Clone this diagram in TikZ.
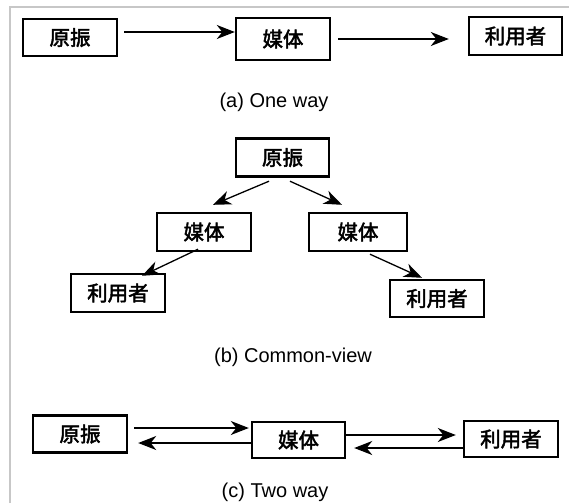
\documentclass[tikz,border=0pt]{standalone}
\usepackage{fontspec}
\setmainfont{Liberation Sans}
\newfontfamily\cjk[FakeBold=2.4]{Noto Sans CJK SC}
\usetikzlibrary{arrows.meta}
\tikzset{
  box/.style={draw=black, line width=2.4pt, rectangle, inner sep=0pt,
    minimum width=94pt, minimum height=37pt, font=\cjk\fontsize{20.5}{20.5}\selectfont},
  arr/.style={line width=1.3pt, -{Stealth[length=18pt,width=14pt,inset=5.5pt]}},
  captext/.style={font=\fontsize{20}{20}\selectfont, inner sep=0pt},
  frameline/.style={draw=black!22, line width=1.6pt}
}
\begin{document}
\begin{tikzpicture}[x=1pt,y=-1pt]
\useasboundingbox (0,0) rectangle (569,503);
\fill[white] (0,0) rectangle (569,503);
\coordinate (fr1) at (10,503);
\coordinate (fr2) at (10,7);
\coordinate (fr3) at (569,7);
\draw[frameline] (fr1) -- (fr2) -- (fr3);

% (a) One way
\node[box] (a1) at (70,37.5) {原振};
\node[box, minimum height=42pt] (a2) at (283,39) {媒体};
\node[box, minimum height=38pt, minimum width=93pt] (a3) at (515.5,36) {利用者};
\coordinate (a1s) at ([xshift=6pt,yshift=5.5pt]a1.east);
\draw[arr] (a1s) -- (a1s -| a2.west);
\coordinate (a2s) at ([xshift=7pt]a2.east);
\coordinate (a2e) at ([xshift=-19pt]a3.west |- a2.east);
\draw[arr] (a2s) -- (a2e);
\node[captext] (capa) at (274,102) {(a) One way};

% (b) Common-view
\node[box, minimum width=93pt, minimum height=38pt] (b1) at (282.5,157.5) {原振};
\node[box, minimum height=38pt] (b2) at (204,232) {媒体};
\node[box, minimum width=98pt, minimum height=38pt] (b3) at (358,232) {媒体};
\node[box, minimum height=38pt] (b4) at (118,293) {利用者};
\node[box] (b5) at (437,298.5) {利用者};
\coordinate (b1l) at ([xshift=-13.5pt,yshift=-3.5pt]b1.south);
\coordinate (b2t) at ([xshift=9pt,yshift=7pt]b2.north);
\draw[arr] (b1l) -- (b2t);
\coordinate (b1r) at ([xshift=7.5pt,yshift=-3.5pt]b1.south);
\coordinate (b3t) at ([xshift=-16pt,yshift=7pt]b3.north);
\draw[arr] (b1r) -- (b3t);
\coordinate (b2b) at ([xshift=-6pt,yshift=3pt]b2.south);
\coordinate (b4t) at ([xshift=24pt,yshift=-3pt]b4.north);
\draw[arr] (b2b) -- (b4t);
\coordinate (b3b) at ([xshift=12pt,yshift=-2pt]b3.south);
\coordinate (b5t) at ([xshift=-15pt,yshift=1pt]b5.north);
\draw[arr] (b3b) -- (b5t);
\node[captext] (capb) at (293,357) {(b) Common-view};

% (c) Two way
\node[box, minimum height=37pt] (c1) at (80,434) {原振};
\node[box, minimum width=93pt, minimum height=36pt] (c2) at (298.5,440) {媒体};
\node[box, minimum height=36pt] (c3) at (511,439) {利用者};
\coordinate (c1a) at ([xshift=6pt,yshift=6pt]c1.east);
\coordinate (c2a) at ([xshift=-2pt]c2.west |- c1a);
\draw[arr] (c1a) -- (c2a);
\coordinate (c2b) at ([yshift=-3pt]c2.west);
\coordinate (c1b) at ([xshift=10pt]c1.east |- c2b);
\draw[arr] (c2b) -- (c1b);
\coordinate (c2c) at ([yshift=5pt]c2.east);
\coordinate (c3c) at ([xshift=-7pt]c3.west |- c2c);
\draw[arr] (c2c) -- (c3c);
\coordinate (c3d) at ([yshift=-9pt]c3.west);
\coordinate (c2d) at ([xshift=8pt]c2.east |- c3d);
\draw[arr] (c3d) -- (c2d);
\node[captext] (capc) at (275,492) {(c) Two way};
\end{tikzpicture}
\end{document}
